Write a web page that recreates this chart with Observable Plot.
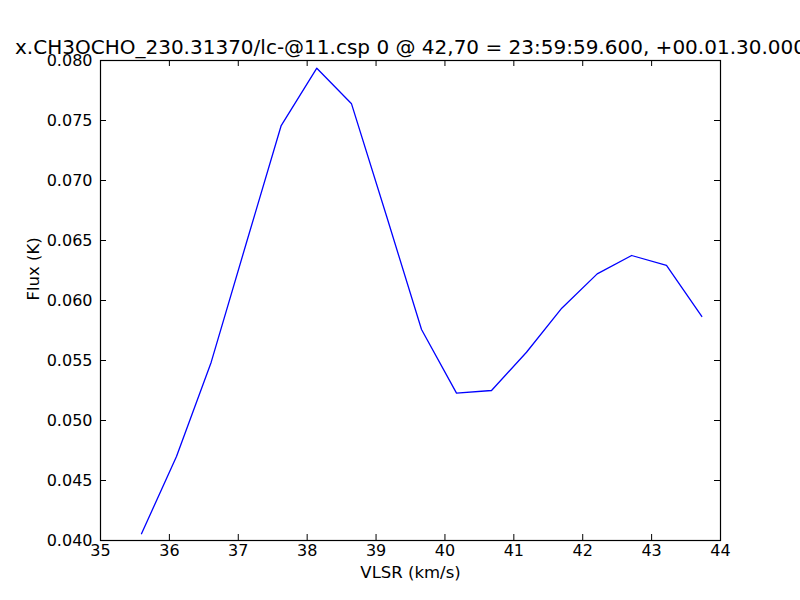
<!DOCTYPE html>
<html>
<head>
<meta charset="utf-8">
<script src="https://cdn.jsdelivr.net/npm/d3@7"></script>
<script src="https://cdn.jsdelivr.net/npm/@observablehq/plot@0.6"></script>
<style>
  html, body { margin: 0; padding: 0; background: #ffffff; overflow: hidden; }
  #chart svg { overflow: visible; }
</style>
</head>
<body>
<div id="chart"></div>
<script>
const titleText = "x.CH3OCHO_230.31370/lc-@11.csp 0 @ 42,70 = 23:59:59.600, +00.01.30.000";
const xLabel = "VLSR (km/s)";
const yLabel = "Flux (K)";

const vlsr = [35.595, 36.103, 36.607, 37.115, 37.623, 38.140, 38.644, 39.152, 39.660,
              40.168, 40.676, 41.184, 41.696, 42.210, 42.710, 43.216, 43.728];
const flux = [0.04056, 0.04700, 0.05486, 0.06475, 0.07458, 0.07936, 0.07639, 0.06704, 0.05758,
              0.05228, 0.05250, 0.05569, 0.05936, 0.06222, 0.06375, 0.06292, 0.05867];

const xTicks = [35, 36, 37, 38, 39, 40, 41, 42, 43, 44];
const yTicks = [0.040, 0.045, 0.050, 0.055, 0.060, 0.065, 0.070, 0.075, 0.080];

const data = vlsr.map((v, i) => ({vlsr: v, flux: flux[i]}));

const chart = Plot.plot({
  width: 800,
  height: 600,
  marginLeft: 100,
  marginRight: 80,
  marginTop: 60,
  marginBottom: 60,
  style: {fontFamily: "DejaVu Sans", fontSize: "16px", color: "#000000", background: "#ffffff", overflow: "visible"},
  x: {domain: [35, 44]},
  y: {domain: [0.040, 0.080]},
  marks: [
    Plot.axisX(xTicks, {tickSize: 0, tickPadding: 4, label: null, fontSize: 16, tickFormat: d3.format("d")}),
    Plot.axisY(yTicks, {tickSize: 0, tickPadding: 8, label: null, fontSize: 16, tickFormat: d3.format(".3f")}),
    Plot.line(data, {x: "vlsr", y: "flux", stroke: "#0000ff", strokeWidth: 1.3}),
    // inward ticks on all four sides
    Plot.ruleX(xTicks, {x: d => d, y1: 0.040, y2: 0.040, insetBottom: 6, stroke: "#000"}),
    Plot.ruleX(xTicks, {x: d => d, y1: 0.080, y2: 0.080, insetTop: 6, stroke: "#000"}),
    Plot.ruleY(yTicks, {y: d => d, x1: 35, x2: 35, insetLeft: 6, stroke: "#000"}),
    Plot.ruleY(yTicks, {y: d => d, x1: 44, x2: 44, insetRight: 6, stroke: "#000"}),
    Plot.frame({stroke: "#000000", strokeWidth: 1.2}),
    Plot.text([titleText], {text: d => d, frameAnchor: "top", dy: -13.4, lineAnchor: "middle", fontSize: 20, fill: "#000"}),
    Plot.text([xLabel], {text: d => d, frameAnchor: "bottom", dy: 32, lineAnchor: "middle", fontSize: 16.5, fill: "#000"}),
    Plot.text([yLabel], {text: d => d, frameAnchor: "left", dx: -67, rotate: -90, lineAnchor: "middle", fontSize: 16.5, fill: "#000"})
  ]
});
document.getElementById("chart").appendChild(chart);
</script>
</body>
</html>
